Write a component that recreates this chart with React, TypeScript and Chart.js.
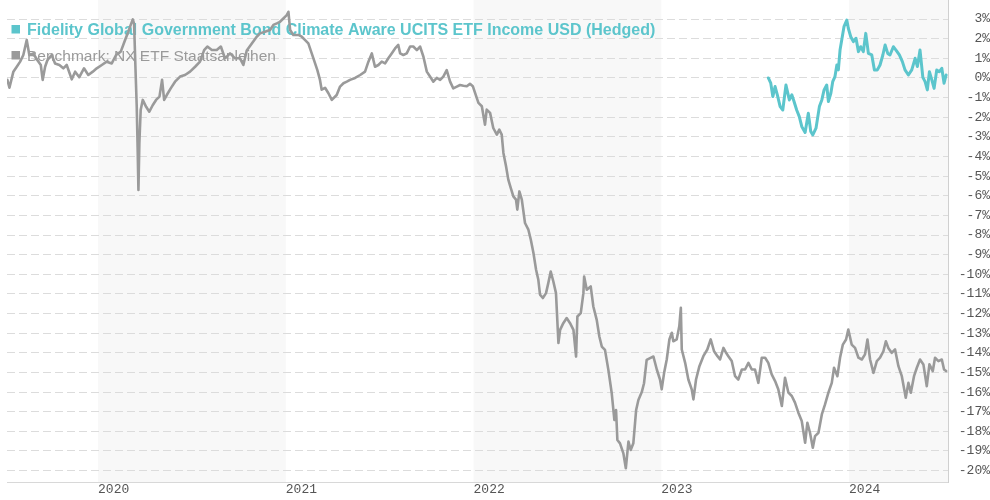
import React, { useEffect, useRef } from 'react';
import { Chart, registerables } from 'chart.js';

Chart.register(...registerables);

const fundLabel = 'Fidelity Global Government Bond Climate Aware UCITS ETF Income USD (Hedged)';
const benchLabel = 'Benchmark: NX ETF Staatsanleihen';

const yearTicks = [2020, 2021, 2022, 2023, 2024];
const shadedYears = [2020, 2022, 2024];
const yTicks = [3, 2, 1, 0, -1, -2, -3, -4, -5, -6, -7, -8, -9, -10, -11, -12, -13, -14, -15, -16, -17, -18, -19, -20];

// time as decimal years
const benchTime = [
  2019.517, 2019.528, 2019.549, 2019.567, 2019.585, 2019.602, 2019.620, 2019.634, 2019.655, 2019.677,
  2019.695, 2019.705, 2019.718, 2019.730, 2019.753, 2019.771, 2019.794, 2019.815, 2019.833, 2019.860,
  2019.878, 2019.900, 2019.925, 2019.948, 2019.972, 2019.993, 2020.020, 2020.046, 2020.073, 2020.096,
  2020.121, 2020.144, 2020.161, 2020.174, 2020.185, 2020.192, 2020.199, 2020.206, 2020.211, 2020.215,
  2020.220, 2020.227, 2020.238, 2020.256, 2020.273, 2020.291, 2020.309, 2020.327, 2020.341, 2020.352,
  2020.366, 2020.387, 2020.410, 2020.437, 2020.463, 2020.490, 2020.517, 2020.543, 2020.565, 2020.582,
  2020.606, 2020.632, 2020.654, 2020.676, 2020.703, 2020.730, 2020.756, 2020.774, 2020.792, 2020.819,
  2020.845, 2020.863, 2020.889, 2020.916, 2020.934, 2020.952, 2020.969, 2020.987, 2021.005, 2021.014,
  2021.023, 2021.040, 2021.067, 2021.085, 2021.103, 2021.120, 2021.138, 2021.156, 2021.168, 2021.182,
  2021.191, 2021.209, 2021.227, 2021.245, 2021.271, 2021.289, 2021.307, 2021.325, 2021.342, 2021.369,
  2021.396, 2021.422, 2021.440, 2021.458, 2021.475, 2021.493, 2021.511, 2021.529, 2021.546, 2021.564,
  2021.582, 2021.599, 2021.609, 2021.626, 2021.644, 2021.662, 2021.679, 2021.698, 2021.715, 2021.733,
  2021.751, 2021.768, 2021.786, 2021.804, 2021.822, 2021.839, 2021.857, 2021.875, 2021.892, 2021.911,
  2021.928, 2021.946, 2021.964, 2021.981, 2021.996, 2022.008, 2022.026, 2022.044, 2022.061, 2022.070,
  2022.088, 2022.105, 2022.124, 2022.137, 2022.150, 2022.159, 2022.173, 2022.185, 2022.198, 2022.212,
  2022.226, 2022.233, 2022.244, 2022.257, 2022.274, 2022.292, 2022.305, 2022.319, 2022.333, 2022.345,
  2022.354, 2022.369, 2022.386, 2022.398, 2022.411, 2022.425, 2022.439, 2022.452, 2022.461, 2022.478,
  2022.496, 2022.514, 2022.532, 2022.546, 2022.553, 2022.571, 2022.585, 2022.589, 2022.603, 2022.624,
  2022.638, 2022.656, 2022.670, 2022.683, 2022.700, 2022.718, 2022.736, 2022.750, 2022.759, 2022.766,
  2022.780, 2022.798, 2022.811, 2022.825, 2022.837, 2022.851, 2022.866, 2022.878, 2022.896, 2022.908,
  2022.922, 2022.940, 2022.958, 2022.976, 2022.993, 2023.002, 2023.015, 2023.029, 2023.043, 2023.056,
  2023.064, 2023.082, 2023.096, 2023.104, 2023.109, 2023.127, 2023.144, 2023.162, 2023.171, 2023.185,
  2023.203, 2023.224, 2023.245, 2023.263, 2023.281, 2023.299, 2023.313, 2023.331, 2023.345, 2023.357,
  2023.375, 2023.393, 2023.410, 2023.429, 2023.446, 2023.464, 2023.482, 2023.499, 2023.517, 2023.535,
  2023.553, 2023.570, 2023.588, 2023.606, 2023.623, 2023.642, 2023.659, 2023.677, 2023.695, 2023.712,
  2023.730, 2023.748, 2023.766, 2023.778, 2023.792, 2023.807, 2023.819, 2023.837, 2023.855, 2023.872,
  2023.890, 2023.908, 2023.920, 2023.938, 2023.952, 2023.967, 2023.984, 2023.996, 2024.014, 2024.032,
  2024.050, 2024.068, 2024.085, 2024.098, 2024.112, 2024.130, 2024.148, 2024.165, 2024.183, 2024.196,
  2024.209, 2024.227, 2024.245, 2024.263, 2024.281, 2024.302, 2024.316, 2024.329, 2024.346, 2024.361,
  2024.378, 2024.396, 2024.414, 2024.428, 2024.446, 2024.458, 2024.476, 2024.494, 2024.506, 2024.517,
];

const benchValue = [
  -0.1, -0.5, 0.32, 0.57, 0.83, 1.17, 1.93, 1.17, 1.25, 0.9,
  0.66, -0.1, 0.57, 0.9, 1.17, 0.74, 0.66, 0.49, 0.66, -0.07,
  0.32, 0.04, 0.49, 0.15, 0.32, 0.49, 0.66, 0.83, 0.74, 1.17,
  1.34, 1.93, 2.35, 2.7, 2.98, 2.75, 0.57, -1.47, -3.67, -5.7,
  -3.33, -1.63, -1.12, -1.47, -1.72, -1.39, -1.12, -0.95, -0.1, -1.12,
  -0.87, -0.53, -0.19, 0.07, 0.15, 0.32, 0.57, 0.83, 1.42, 1.6,
  1.42, 1.42, 1.6, 1.0, 1.25, 1.0, 1.0, 0.66, 1.4, 1.76,
  2.1, 2.27, 2.35, 2.44, 2.7, 2.78, 2.86, 3.03, 3.2, 3.37,
  2.44, 2.19, 2.19, 2.1, 1.93, 1.76, 1.25, 0.74, 0.4, -0.1,
  -0.6, -0.5, -0.78, -1.12, -0.87, -0.44, -0.27, -0.19, -0.1, 0.0,
  0.15, 0.32, 0.83, 1.25, 0.57, 0.66, 0.83, 0.74, 1.0, 1.25,
  1.5, 1.68, 1.25, 1.17, 1.25, 1.6, 1.6, 1.42, 1.6, 1.08,
  0.32, 0.07, -0.19, 0.0, -0.1, 0.07, 0.4, -0.19, -0.53, -0.44,
  -0.36, -0.4, -0.42, -0.3, -0.42, -0.76, -1.27, -1.44, -2.38, -1.61,
  -1.78, -2.55, -2.89, -2.63, -2.89, -3.82, -4.5, -5.18, -5.6, -6.03,
  -6.2, -6.71, -5.78, -6.2, -7.39, -7.73, -8.24, -8.92, -9.77, -10.28,
  -11.04, -11.21, -10.96, -10.45, -9.86, -10.37, -10.96, -13.5, -12.83, -12.49,
  -12.23, -12.49, -12.83, -14.19, -12.15, -11.98, -10.96, -10.11, -10.79, -10.62,
  -11.64, -12.32, -13.17, -13.68, -13.85, -14.87, -16.06, -17.42, -16.91, -18.44,
  -18.61, -19.12, -19.88, -18.52, -18.95, -18.61, -16.91, -16.4, -16.0, -15.55,
  -14.36, -14.27, -14.19, -14.85, -15.36, -15.86, -15.02, -14.34, -13.32, -12.98,
  -13.41, -13.32, -12.64, -11.71, -13.83, -14.51, -15.36, -15.86, -16.37, -15.36,
  -14.68, -14.17, -13.83, -13.32, -13.92, -14.17, -14.34, -13.75, -14.0, -14.17,
  -14.42, -15.19, -15.36, -14.85, -14.85, -14.51, -14.85, -14.85, -15.53, -14.25,
  -14.25, -14.51, -15.1, -15.44, -15.86, -16.71, -15.27, -16.03, -16.2, -16.54,
  -17.05, -17.47, -18.58, -17.56, -18.07, -18.83, -18.24, -18.07, -17.14, -16.63,
  -16.03, -15.53, -14.76, -15.19, -14.25, -13.58, -13.32, -12.81, -13.58, -13.75,
  -14.25, -14.34, -14.08, -13.32, -14.34, -15.02, -14.42, -14.25, -13.92, -13.41,
  -13.75, -14.0, -13.83, -14.68, -15.19, -16.29, -15.53, -16.03, -15.19, -14.76,
  -14.34, -14.59, -15.7, -14.59, -14.93, -14.25, -14.42, -14.34, -14.85, -14.93,
];

const fundTime = [
  2023.570, 2023.583, 2023.594, 2023.606, 2023.618, 2023.633, 2023.647, 2023.664, 2023.682, 2023.695,
  2023.707, 2023.721, 2023.735, 2023.748, 2023.766, 2023.783, 2023.796, 2023.807, 2023.824, 2023.842,
  2023.855, 2023.867, 2023.881, 2023.890, 2023.903, 2023.913, 2023.925, 2023.935, 2023.943, 2023.952,
  2023.961, 2023.973, 2023.988, 2023.996, 2024.009, 2024.023, 2024.037, 2024.050, 2024.062, 2024.076,
  2024.089, 2024.103, 2024.121, 2024.135, 2024.151, 2024.165, 2024.180, 2024.192, 2024.206, 2024.218,
  2024.236, 2024.250, 2024.268, 2024.284, 2024.298, 2024.316, 2024.334, 2024.352, 2024.364, 2024.378,
  2024.393, 2024.405, 2024.417, 2024.428, 2024.440, 2024.453, 2024.467, 2024.481, 2024.494, 2024.506,
  2024.517,
];

const fundValue = [
  0.0, -0.27, -0.95, -0.44, -0.86, -1.46, -1.63, -0.36, -1.12, -0.86,
  -1.2, -1.63, -1.97, -2.47, -2.78, -1.8, -2.73, -2.9, -2.56, -1.46,
  -1.12, -0.61, -0.36, -1.2, -0.78, -0.19, 0.07, 0.66, 0.41, 1.42,
  1.93, 2.61, 2.95, 2.53, 2.1, 1.85, 2.02, 1.34, 1.59, 1.34,
  2.27, 1.25, 1.17, 0.41, 0.41, 0.66, 1.17, 1.68, 1.25, 1.17,
  1.59, 1.42, 1.17, 0.83, 0.41, 0.15, 0.41, 1.0, 0.58, 1.42,
  0.03, -0.19, -0.61, 0.32, -0.07, -0.53, 0.41, 0.32, 0.49, -0.27,
  0.15,
];

const TEAL = '#5cc5cc';
const GREY = '#9a9a9a';
const TICK_FONT = { family: '"Liberation Mono", "DejaVu Sans Mono", monospace', size: 13 };

const bandsPlugin = {
  id: 'yearBands',
  beforeDraw(chart: any) {
    const { ctx, chartArea, scales } = chart;
    const xs = scales.x;
    ctx.save();
    ctx.fillStyle = '#f8f8f8';
    shadedYears.forEach((yr) => {
      const x0 = Math.max(chartArea.left, xs.getPixelForValue(yr));
      const x1 = Math.min(chartArea.right, xs.getPixelForValue(yr + 1));
      if (x1 > x0) ctx.fillRect(x0, chartArea.top, x1 - x0, chartArea.bottom - chartArea.top);
    });
    ctx.restore();
  },
};

const legendPlugin = {
  id: 'overlayLegend',
  beforeDatasetsDraw(chart: any) {
    const { ctx } = chart;
    const items = chart.data.datasets.map((d: any, i: number) => ({
      text: d.label,
      color: d.borderColor,
      bold: i === 0,
    }));
    ctx.save();
    items.forEach((it: any, i: number) => {
      const baseline = 35 + i * 26;
      ctx.fillStyle = it.color;
      ctx.fillRect(11.5, baseline - 10, 8.5, 8.5);
      ctx.font = `${it.bold ? 'bold 16px' : '15.5px'} "Liberation Sans", Arial, sans-serif`;
      ctx.textBaseline = 'alphabetic';
      ctx.textAlign = 'left';
      ctx.fillText(it.text, 27, baseline);
    });
    ctx.restore();
  },
};

const zeroPad = (s: any) => {
  s.paddingTop = 0;
  s.paddingBottom = 0;
  s.paddingLeft = 0;
  s.paddingRight = 0;
};

export default function App() {
  const canvasRef = useRef<HTMLCanvasElement | null>(null);

  useEffect(() => {
    if (!canvasRef.current) return;
    const chart = new Chart(canvasRef.current, {
      type: 'line',
      data: {
        datasets: [
          {
            label: fundLabel,
            data: fundTime.map((t, i) => ({ x: t, y: fundValue[i] })),
            borderColor: TEAL,
            backgroundColor: TEAL,
            borderWidth: 3,
            pointRadius: 0,
            tension: 0,
            borderJoinStyle: 'round',
            borderCapStyle: 'round',
            fill: false,
          },
          {
            label: benchLabel,
            data: benchTime.map((t, i) => ({ x: t, y: benchValue[i] })),
            borderColor: GREY,
            backgroundColor: GREY,
            borderWidth: 2.6,
            pointRadius: 0,
            tension: 0,
            borderJoinStyle: 'round',
            borderCapStyle: 'round',
            fill: false,
          },
        ],
      },
      options: {
        responsive: false,
        animation: false,
        devicePixelRatio: 1,
        layout: { padding: { left: 7, top: 0, right: 0, bottom: 0 } },
        plugins: {
          legend: { display: false },
          tooltip: { enabled: false },
        },
        scales: {
          x: {
            type: 'linear',
            min: 2019.515,
            max: 2024.527,
            afterBuildTicks: (s: any) => {
              s.ticks = yearTicks.map((v) => ({ value: v }));
            },
            afterFit: (s: any) => {
              s.height = 18;
              zeroPad(s);
            },
            grid: { display: false, drawTicks: false },
            border: { display: true, color: '#d8d8d8', width: 1 },
            ticks: {
              align: 'start',
              autoSkip: false,
              maxRotation: 0,
              minRotation: 0,
              padding: 0,
              color: '#555555',
              font: TICK_FONT,
              callback: (v: any) => String(v),
            },
          },
          y: {
            type: 'linear',
            position: 'right',
            min: -20.58,
            max: 3.97,
            afterBuildTicks: (s: any) => {
              s.ticks = yTicks.map((v) => ({ value: v }));
            },
            afterFit: (s: any) => {
              s.width = 42;
              zeroPad(s);
            },
            grid: {
              color: '#dcdcdc',
              lineWidth: 1,
              drawTicks: false,
            },
            border: { display: true, color: '#d0d0d0', width: 1, dash: [8, 4] },
            ticks: {
              crossAlign: 'far',
              padding: 10,
              color: '#555555',
              font: TICK_FONT,
              callback: (v: any) => `${v}%`,
            },
          },
        },
      },
      plugins: [bandsPlugin, legendPlugin],
    } as any);
    return () => chart.destroy();
  }, []);

  return (
    <div style={{ position: 'absolute', left: 0, top: 0, width: 990, height: 500, background: '#fff' }}>
      <canvas ref={canvasRef} width={990} height={500} style={{ display: 'block' }} />
    </div>
  );
}
